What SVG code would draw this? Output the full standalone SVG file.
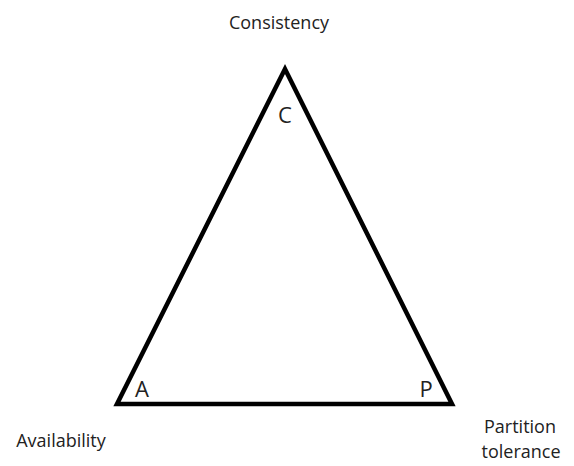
<svg xmlns="http://www.w3.org/2000/svg" width="574" height="466" viewBox="0 0 574 466">
<style>
text{font-family:"Open Sans","Noto Sans","Liberation Sans",sans-serif;fill:#222;font-size:18px}
.v{font-size:22px}
</style>
<rect width="574" height="466" fill="#fff"/>
<g id="connectors">
<polygon points="285,69 117,404 452,404" fill="none" stroke="#000" stroke-width="4.5" stroke-linejoin="miter"/>
</g>
<g id="node-C"><text class="v" x="285" y="123" text-anchor="middle">C</text></g>
<g id="node-A"><text class="v" x="142" y="397" text-anchor="middle">A</text></g>
<g id="node-P"><text class="v" x="426" y="397" text-anchor="middle">P</text></g>
<g id="label-consistency"><text x="279" y="29" text-anchor="middle">Consistency</text></g>
<g id="label-availability"><text x="61" y="447" text-anchor="middle">Availability</text></g>
<g id="label-partition"><text x="520" y="433" text-anchor="middle">Partition</text><text x="521" y="458" text-anchor="middle">tolerance</text></g>
</svg>
